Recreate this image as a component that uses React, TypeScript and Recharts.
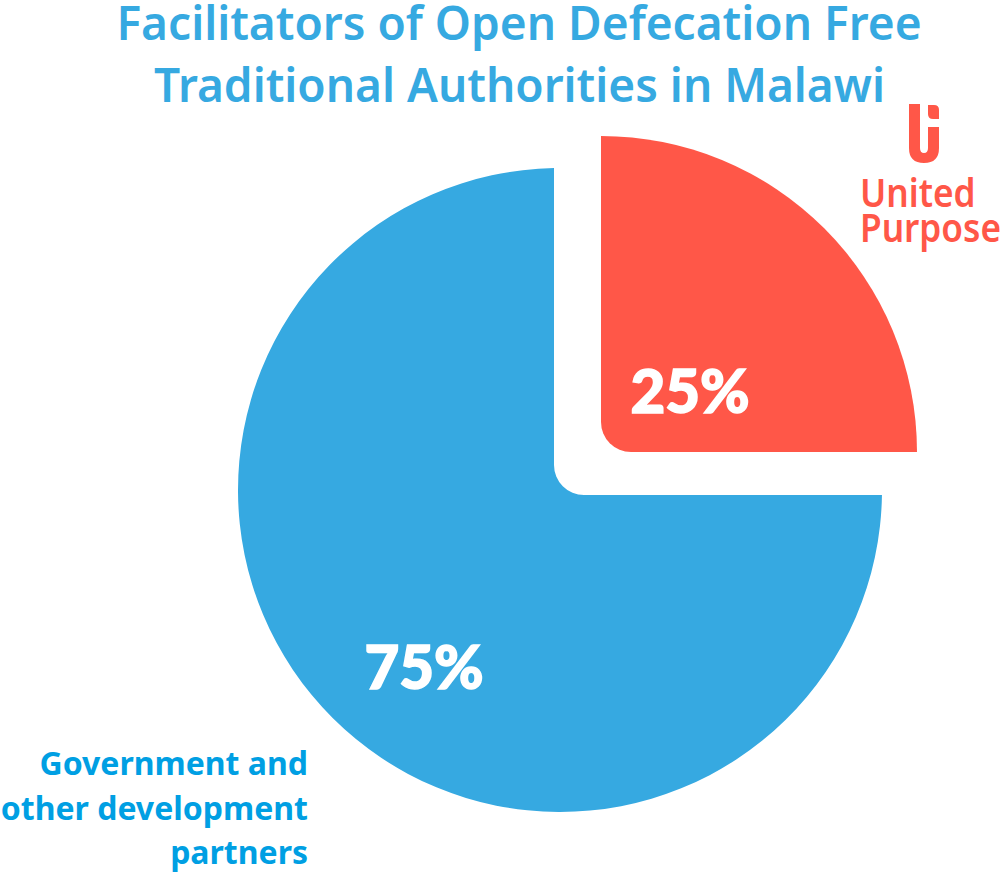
import { PieChart, Pie, Cell } from 'recharts';

const W = 1000;
const H = 873;

const facilitators = ['United Purpose', 'Government and other development partners'];
const shares = [25, 75];
const sliceColors = ['#FF5748', '#36A9E1'];

const titleLines = ['Facilitators of Open Defecation Free', 'Traditional Authorities in Malawi'];
const partnerLines = ['Government and', 'other development', 'partners'];

const upData = [{ name: facilitators[0], value: shares[0] }];
const govData = [{ name: facilitators[1], value: shares[1] }];

const upEnd = 90 - (360 * shares[0]) / 100;
const govEnd = upEnd - (360 * shares[1]) / 100;

const RAD = Math.PI / 180;
const CORNER = 30;

// a point on the circle, nudged so that the slice edge stays straight through the apex
function snap(cx: number, cy: number, r: number, angle: number, ax: number, ay: number) {
  const dx = Math.cos(angle * RAD);
  const dy = -Math.sin(angle * RAD);
  if (Math.abs(dy) > Math.abs(dx)) {
    return { x: ax, y: cy + Math.sign(dy) * Math.sqrt(r * r - (ax - cx) * (ax - cx)), dx: 0, dy: Math.sign(dy) };
  }
  return { x: cx + Math.sign(dx) * Math.sqrt(r * r - (ay - cy) * (ay - cy)), y: ay, dx: Math.sign(dx), dy: 0 };
}

// pie slice with a rounded inner corner; the apex can sit off the circle centre
const sliceShape = (apexDx: number, apexDy: number) => (props: any) => {
  const { cx, cy, outerRadius: r, startAngle, endAngle, fill } = props;
  const ax = cx + apexDx;
  const ay = cy + apexDy;
  const a = snap(cx, cy, r, startAngle, ax, ay);
  const b = snap(cx, cy, r, endAngle, ax, ay);
  const large = Math.abs(startAngle - endAngle) > 180 ? 1 : 0;
  const d = [
    `M ${a.x} ${a.y}`,
    `A ${r} ${r} 0 ${large} 1 ${b.x} ${b.y}`,
    `L ${ax + b.dx * CORNER} ${ay + b.dy * CORNER}`,
    `A ${CORNER} ${CORNER} 0 0 ${large ? 0 : 1} ${ax + a.dx * CORNER} ${ay + a.dy * CORNER}`,
    'Z',
  ].join(' ');
  return <path d={d} fill={fill} />;
};

const percentLabel = (dx: number, dy: number) => (props: any) => (
  <text
    x={props.cx + dx}
    y={props.cy + dy}
    textAnchor="middle"
    fontFamily="Lato, sans-serif"
    fontWeight={900}
    fontSize={60}
    fill="#ffffff"
    stroke="#ffffff"
    strokeWidth={1.5}
  >
    {props.value}%
  </text>
);

export default function App() {
  return (
    <div style={{ position: 'absolute', left: 0, top: 0, width: W, height: H }}>
      <PieChart width={W} height={H} margin={{ top: 0, right: 0, bottom: 0, left: 0 }}>
        <Pie
          data={upData}
          dataKey="value"
          cx={601}
          cy={452}
          outerRadius={316}
          startAngle={90}
          endAngle={upEnd}
          stroke="none"
          shape={sliceShape(0, 0)}
          label={percentLabel(89, -39)}
          labelLine={false}
          isAnimationActive={false}
        >
          <Cell fill={sliceColors[0]} />
        </Pie>
        <Pie
          data={govData}
          dataKey="value"
          cx={560}
          cy={490}
          outerRadius={322}
          startAngle={upEnd}
          endAngle={govEnd}
          stroke="none"
          shape={sliceShape(-6, 5)}
          label={percentLabel(-136, 199)}
          labelLine={false}
          isAnimationActive={false}
        >
          <Cell fill={sliceColors[1]} />
        </Pie>

        <g fontFamily="'Noto Sans', sans-serif" fontWeight={600} fontSize={46} fill="#36A9E1" textAnchor="middle">
          <text x={519} y={40}>{titleLines[0]}</text>
          <text x={519.5} y={102}>{titleLines[1]}</text>
        </g>

        <g fontFamily="'Noto Sans', sans-serif" fontWeight={700} fontSize={32} fill="#009FE3" textAnchor="end">
          <text x={308} y={775}>{partnerLines[0]}</text>
          <text x={308} y={820}>{partnerLines[1]}</text>
          <text x={308} y={864}>{partnerLines[2]}</text>
        </g>

        <g fill="#FF5748">
          <path d="M909 104 H920 V148 Q920 153 924 153 Q928 153 928 148 V127 H939 V148 Q939 163 924 163 Q909 163 909 148 Z" />
          <path d="M928 105 H934 Q939 105 939 110 V119 H933 Q928 119 928 114 Z" />
          <g fontFamily="'Noto Sans', sans-serif" fontWeight={600} fontSize={40} transform="translate(860 0) scale(0.88 1)">
            <text x={0} y={207}>United</text>
            <text x={0} y={242}>Purpose</text>
          </g>
        </g>
      </PieChart>
    </div>
  );
}
